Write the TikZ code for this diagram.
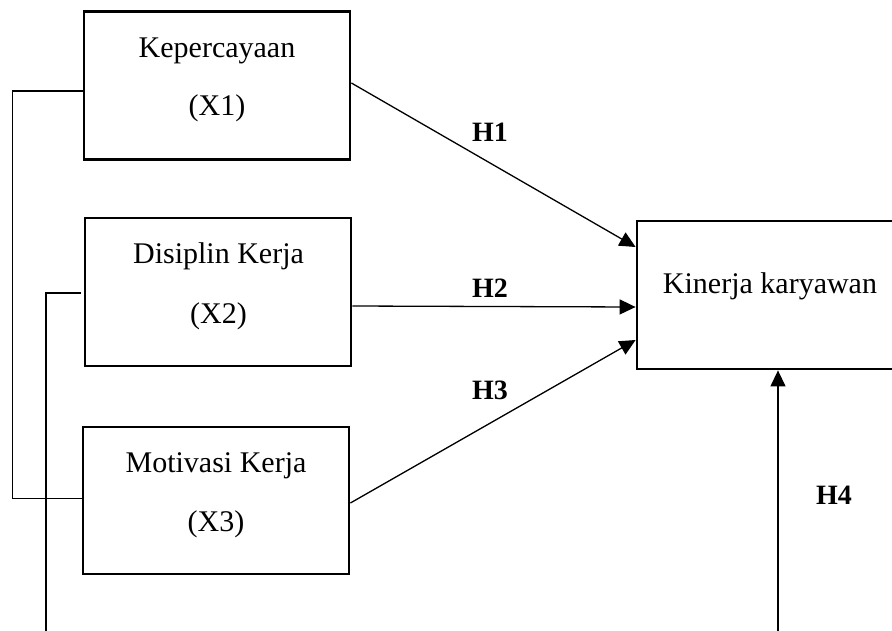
\documentclass[tikz,border=0pt]{standalone}
\usepackage{fontspec}
\setmainfont{Liberation Serif}
\usetikzlibrary{arrows.meta}
\begin{document}
\begin{tikzpicture}[x=1pt,y=-1pt,
  box/.style={draw, line width=2.8pt, inner sep=0pt},
  txt/.style={inner sep=0pt, anchor=base, font=\fontsize{30}{36}\selectfont},
  hlab/.style={inner sep=0pt, anchor=base, font=\fontsize{28}{34}\selectfont\bfseries},
  conn/.style={line width=1.3pt},
  arr/.style={line width=1.3pt, -{Triangle[length=16pt,width=15pt]}}]
\clip (0,0) rectangle (892,630);
\fill[white] (0,0) rectangle (892,630);
% boxes
\node[box, minimum width=266, minimum height=148] (x1) at (217,85.5) {};
\node[box, minimum width=266, minimum height=148] (x2) at (218,292) {};
\node[box, minimum width=266, minimum height=147] (x3) at (216,500.5) {};
\node[box, minimum width=268, minimum height=148] (y) at (771,295) {};
% texts
\node[txt] (t1a) at (217,57) {Kepercayaan};
\node[txt] (t1b) at (217,115) {(X1)};
\node[txt] (t2a) at (218.5,263) {Disiplin Kerja};
\node[txt] (t2b) at (218.5,323) {(X2)};
\node[txt] (t3a) at (216,472) {Motivasi Kerja};
\node[txt] (t3b) at (216,531) {(X3)};
\node[txt] (ty) at (770,293) {Kinerja karyawan};
% hypothesis labels
\node[hlab] (h1) at (490,141) {H1};
\node[hlab] (h2) at (490,297) {H2};
\node[hlab] (h3) at (490,399) {H3};
\node[hlab] (h4) at (834,504) {H4};
% arrows
\coordinate (y1) at (y.west |- 0,247);
\coordinate (y2) at (y.west |- 0,307);
\coordinate (y3) at (y.west |- 0,340);
\draw[arr] (x1.east |- 0,83) -- (y1);
\draw[arr] (x2.east |- 0,306) -- (y2);
\draw[arr] (x3.east |- 0,503) -- (y3);
% left bracket
\coordinate (b1) at (12.5,91);
\coordinate (b2) at (12.5,498.5);
\draw[conn] (x1.west |- b1) -- (b1) -- (b2) -- (x3.west |- b2);
% second line with H4
\coordinate (c1) at (81,293);
\coordinate (c2) at (46,293);
\coordinate (c3) at (46,640);
\coordinate (c4) at (778,640);
\draw[conn] (c1) -- (c2) -- (c3);
\draw[arr] (c4) -- (y.south -| c4);
\end{tikzpicture}
\end{document}
